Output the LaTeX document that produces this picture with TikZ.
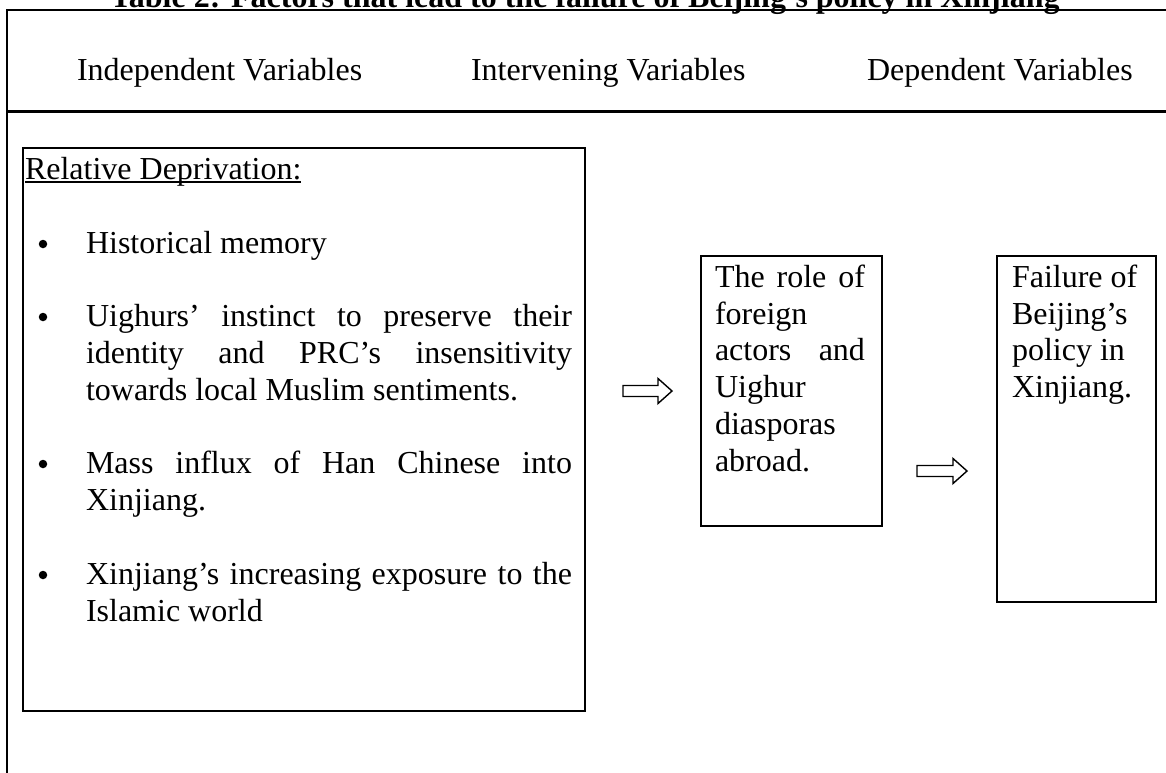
\documentclass[tikz,border=0pt]{standalone}
\usepackage{fontspec}
\setmainfont{Liberation Serif}
\begin{document}
\begin{tikzpicture}[x=1pt,y=-1pt,
  every node/.style={inner sep=0pt,outer sep=0pt},
  txt/.style={anchor=base west,font=\fontsize{32}{36.8}\selectfont},
  tbl/.style={line width=2.4pt},
  thinbox/.style={draw,line width=1.3pt,anchor=north west},
  thickbox/.style={draw,line width=2pt,anchor=north west},
  blockarrow/.style={draw,line width=1.4pt,fill=white},
  bulletdot/.style={circle,fill=black,minimum size=8.5pt}]
\useasboundingbox (0,0) rectangle (1166,772);
% title (cut off at the top)
\node[anchor=base,font=\bfseries\fontsize{32}{36}\selectfont] (title) at (585,7)
  {Table 2: Factors that lead to the failure of Beijing’s policy in Xinjiang};
% table lines
\draw[tbl] (1168,10) -- (7,10) -- (7,775);
\draw[tbl] (7,111.5) -- (1168,111.5);
% headers
\node[txt] (h1) at (77,80) {Independent Variables};
\node[txt] (h2) at (471,80) {Intervening Variables};
\node[txt] (h3) at (867,80) {Dependent Variables};
% box 1
\node[thinbox,minimum width=562pt,minimum height=563pt] (indep) at (23,148) {};
\node[txt] (rd) at (25,179) {Relative Deprivation:};
\draw[line width=1.3pt] ([yshift=-3pt]rd.base west) -- ([yshift=-3pt]rd.base east);
\node[bulletdot] (b1) at (43,244) {};
\node[txt] (l2) at (86,253) {Historical memory};
\node[bulletdot] (b2) at (43,317) {};
\node[txt] (l4) at (86,326) {\makebox[486pt][s]{Uighurs’ instinct to preserve their}};
\node[txt] (l5) at (86,363) {\makebox[486pt][s]{identity and PRC’s insensitivity}};
\node[txt] (l6) at (86,400) {towards local Muslim sentiments.};
\node[bulletdot] (b3) at (43,464) {};
\node[txt] (l8) at (86,473) {\makebox[486pt][s]{Mass influx of Han Chinese into}};
\node[txt] (l9) at (86,510) {Xinjiang.};
\node[bulletdot] (b4) at (43,575) {};
\node[txt] (l11) at (86,584) {\makebox[486pt][s]{Xinjiang’s increasing exposure to the}};
\node[txt] (l12) at (86,621) {Islamic world};
% box 2
\node[thickbox,minimum width=181pt,minimum height=270pt] (interv) at (701,256) {};
\node[txt] (m1) at (715,287) {\makebox[150pt][s]{The role of}};
\node[txt] (m2) at (715,324) {foreign};
\node[txt] (m3) at (715,360) {\makebox[150pt][s]{actors and}};
\node[txt] (m4) at (715,397) {Uighur};
\node[txt] (m5) at (715,434) {diasporas};
\node[txt] (m6) at (715,471) {abroad.};
% box 3
\node[thickbox,minimum width=158.5pt,minimum height=346pt] (dep) at (997,256) {};
\node[txt] (d1) at (1012,287) {Failure of};
\node[txt] (d2) at (1012,324) {Beijing’s};
\node[txt] (d3) at (1012,360) {policy in};
\node[txt] (d4) at (1012,397) {Xinjiang.};
% block arrows
\coordinate (a1) at (623,391);
\coordinate (a2) at (917,471);
\draw[blockarrow] (a1) ++(0,-5.5) -- ++(35,0) -- ++(0,-7) -- ++(14,12.5) -- ++(-14,12.5) -- ++(0,-7) -- ++(-35,0) -- cycle;
\draw[blockarrow] (a2) ++(0,-5.5) -- ++(36,0) -- ++(0,-7) -- ++(14,12.5) -- ++(-14,12.5) -- ++(0,-7) -- ++(-36,0) -- cycle;
\end{tikzpicture}
\end{document}
